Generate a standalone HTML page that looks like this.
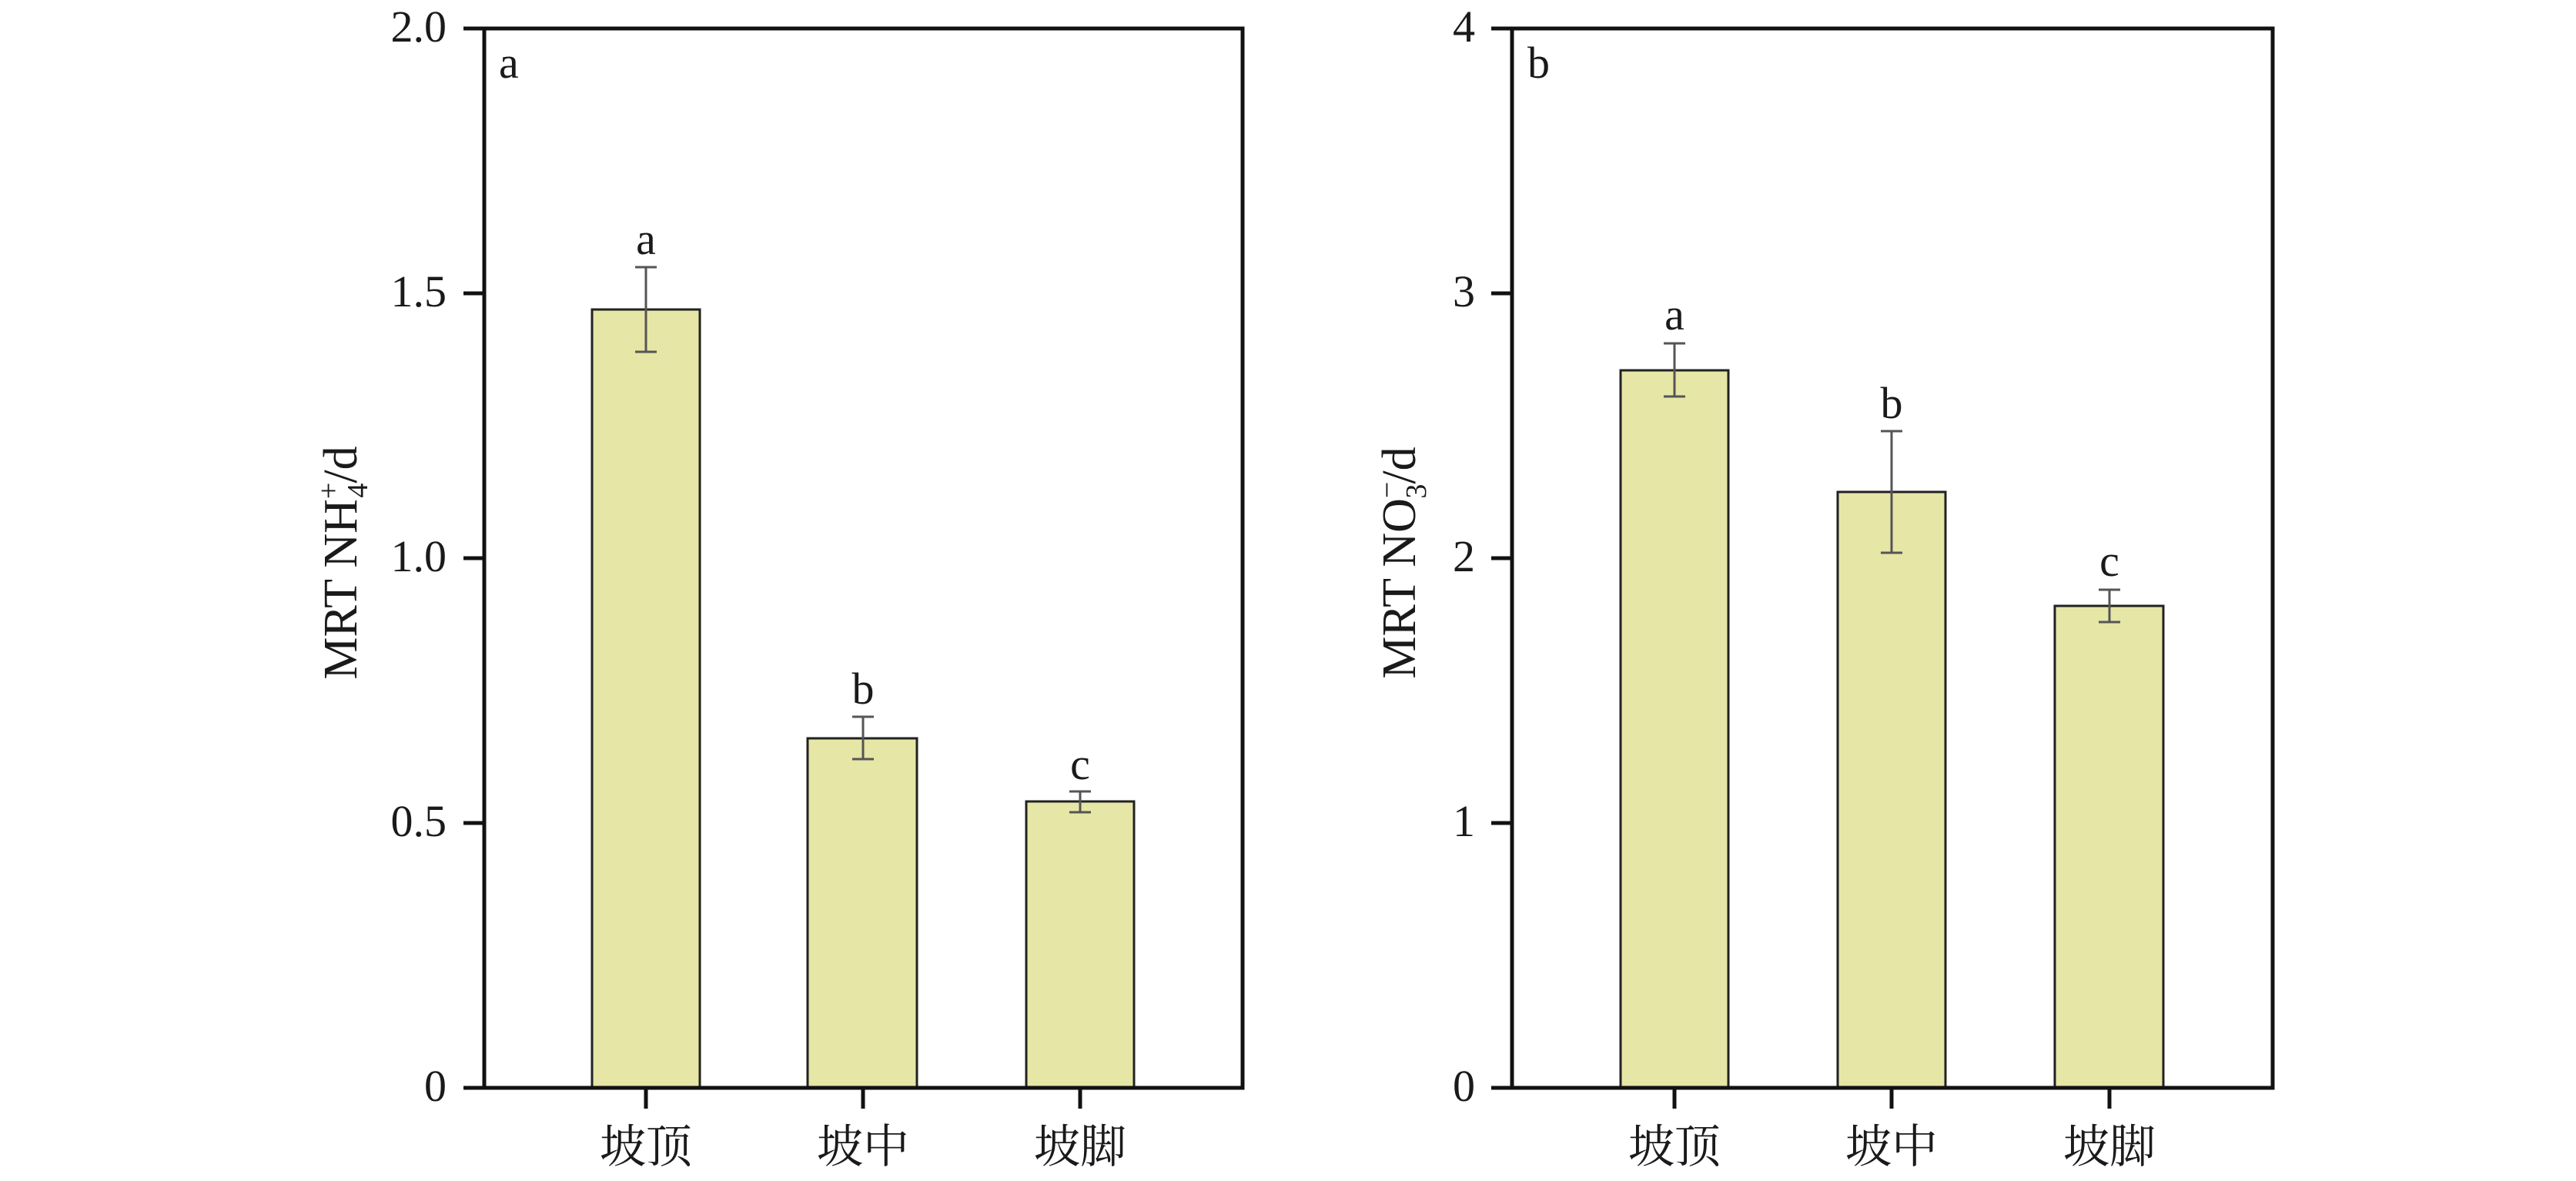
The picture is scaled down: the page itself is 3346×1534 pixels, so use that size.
<!DOCTYPE html>
<html><head><meta charset="utf-8"><style>
html,body{margin:0;padding:0;background:#fff;}
svg text{font-family:"Liberation Serif","Noto Serif CJK SC",serif;fill:#1a1a1a;}
</style></head><body>
<svg width="3346" height="1529" viewBox="0 0 3346 1529" xmlns="http://www.w3.org/2000/svg">
<!-- Panel a: y(v)=1413 - v*688 -->
<g>
<rect x="769" y="402" width="140" height="1011" fill="#e6e6a6" stroke="#222" stroke-width="3"/>
<rect x="1049" y="959" width="142" height="454" fill="#e6e6a6" stroke="#222" stroke-width="3"/>
<rect x="1333" y="1041" width="140" height="372" fill="#e6e6a6" stroke="#222" stroke-width="3"/>
<g stroke="#555" stroke-width="3">
<line x1="839" y1="347" x2="839" y2="457"/><line x1="825" y1="347" x2="853" y2="347"/><line x1="825" y1="457" x2="853" y2="457"/>
<line x1="1121" y1="931" x2="1121" y2="986"/><line x1="1107" y1="931" x2="1135" y2="931"/><line x1="1107" y1="986" x2="1135" y2="986"/>
<line x1="1403" y1="1028" x2="1403" y2="1055"/><line x1="1389" y1="1028" x2="1417" y2="1028"/><line x1="1389" y1="1055" x2="1417" y2="1055"/>
</g>
<rect x="629" y="37" width="985" height="1376" fill="none" stroke="#111" stroke-width="5"/>
<g stroke="#111" stroke-width="5">
<line x1="602" y1="37" x2="629" y2="37"/><line x1="602" y1="381" x2="629" y2="381"/><line x1="602" y1="725" x2="629" y2="725"/><line x1="602" y1="1069" x2="629" y2="1069"/><line x1="602" y1="1413" x2="629" y2="1413"/>
<line x1="839" y1="1413" x2="839" y2="1440"/><line x1="1121" y1="1413" x2="1121" y2="1440"/><line x1="1403" y1="1413" x2="1403" y2="1440"/>
</g>
<g font-size="58" text-anchor="end">
<text x="580" y="54">2.0</text><text x="580" y="398">1.5</text><text x="580" y="742">1.0</text><text x="580" y="1086">0.5</text><text x="580" y="1430">0</text>
</g>
<text x="648" y="101" font-size="58">a</text>
<g font-size="58" text-anchor="middle">
<text x="839" y="330">a</text><text x="1121" y="914">b</text><text x="1403" y="1012">c</text>
</g>
<g font-size="60" text-anchor="middle">
<text x="839" y="1510">坡顶</text><text x="1121" y="1510">坡中</text><text x="1403" y="1510">坡脚</text>
</g>
<text transform="translate(463,731) rotate(-90)" font-size="62" text-anchor="middle">MRT NH<tspan font-size="38" dy="-24">+</tspan><tspan font-size="38" dx="-20" dy="38">4</tspan><tspan dy="-14">/d</tspan></text>
</g>
<!-- Panel b: y(v)=1413 - v*344 -->
<g>
<rect x="2105" y="481" width="140" height="932" fill="#e6e6a6" stroke="#222" stroke-width="3"/>
<rect x="2387" y="639" width="140" height="774" fill="#e6e6a6" stroke="#222" stroke-width="3"/>
<rect x="2669" y="787" width="141" height="626" fill="#e6e6a6" stroke="#222" stroke-width="3"/>
<g stroke="#555" stroke-width="3">
<line x1="2175" y1="446" x2="2175" y2="515"/><line x1="2161" y1="446" x2="2189" y2="446"/><line x1="2161" y1="515" x2="2189" y2="515"/>
<line x1="2457" y1="560" x2="2457" y2="718"/><line x1="2443" y1="560" x2="2471" y2="560"/><line x1="2443" y1="718" x2="2471" y2="718"/>
<line x1="2740" y1="766" x2="2740" y2="808"/><line x1="2726" y1="766" x2="2754" y2="766"/><line x1="2726" y1="808" x2="2754" y2="808"/>
</g>
<rect x="1964" y="37" width="988" height="1376" fill="none" stroke="#111" stroke-width="5"/>
<g stroke="#111" stroke-width="5">
<line x1="1937" y1="37" x2="1964" y2="37"/><line x1="1937" y1="381" x2="1964" y2="381"/><line x1="1937" y1="725" x2="1964" y2="725"/><line x1="1937" y1="1069" x2="1964" y2="1069"/><line x1="1937" y1="1413" x2="1964" y2="1413"/>
<line x1="2175" y1="1413" x2="2175" y2="1440"/><line x1="2457" y1="1413" x2="2457" y2="1440"/><line x1="2740" y1="1413" x2="2740" y2="1440"/>
</g>
<g font-size="58" text-anchor="end">
<text x="1916" y="54">4</text><text x="1916" y="398">3</text><text x="1916" y="742">2</text><text x="1916" y="1086">1</text><text x="1916" y="1430">0</text>
</g>
<text x="1984" y="101" font-size="58">b</text>
<g font-size="58" text-anchor="middle">
<text x="2175" y="428">a</text><text x="2457" y="543">b</text><text x="2740" y="748">c</text>
</g>
<g font-size="60" text-anchor="middle">
<text x="2175" y="1510">坡顶</text><text x="2457" y="1510">坡中</text><text x="2740" y="1510">坡脚</text>
</g>
<text transform="translate(1838,731) rotate(-90)" font-size="62" text-anchor="middle">MRT NO<tspan font-size="38" dy="-24">−</tspan><tspan font-size="38" dx="-22" dy="38">3</tspan><tspan dy="-14">/d</tspan></text>
</g>
</svg>
</body></html>
